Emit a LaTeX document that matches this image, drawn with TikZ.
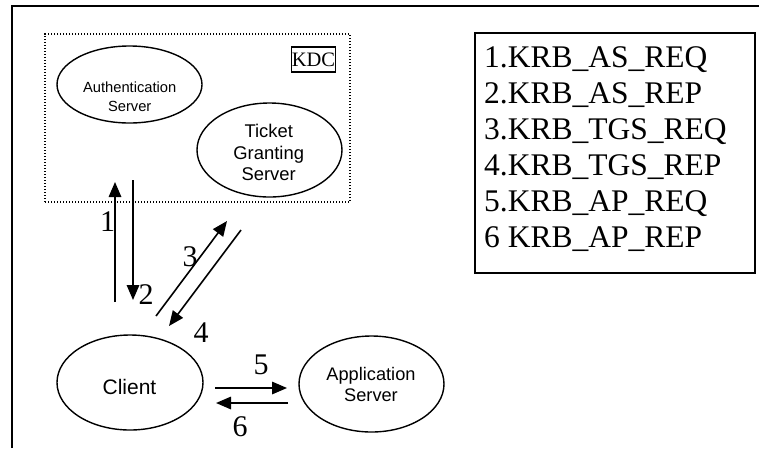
\documentclass[tikz,border=0pt]{standalone}
\usepackage{fontspec}
\setmainfont{Liberation Serif}
\newfontfamily\arialish{Liberation Sans}
\usetikzlibrary{arrows.meta,shapes.geometric}

\begin{document}
\begin{tikzpicture}[x=1pt,y=-1pt,
  server/.style={draw, ellipse, line width=1.4pt, inner sep=0pt},
  sanstext/.style={align=center, inner sep=0pt},
  flow/.style={line width=1.6pt, -{Triangle[length=15pt,width=12.5pt]}},
  num/.style={font=\fontsize{30}{30}\selectfont, inner sep=0pt},
  legendline/.style={anchor=base west, inner sep=0pt, font=\fontsize{31.5}{36}\selectfont}
]
\useasboundingbox (0,0) rectangle (759,448);

% outer frame, continuing past the right and bottom edges
\draw[line width=2pt] (12,448) -- (12,6) -- (759,6);

% KDC region
\node[draw, line width=1.3pt, dash pattern=on 1.3pt off 1.7pt,
      minimum width=305, minimum height=168, inner sep=0pt] (kdc) at (197.5,118) {};
\node[draw, line width=1.2pt, minimum width=43, minimum height=25, inner sep=0pt,
      font=\fontsize{20.5}{20.5}\selectfont] (kdclabel) at (313.5,59.5) {KDC};

% servers and client
\node[server, minimum width=145, minimum height=77] (as) at (129.5,84.5) {};
\node[sanstext, font=\arialish\fontsize{14.7}{18.7}\selectfont] (astxt) at (129.7,97) {Authentication\\Server};

\node[server, minimum width=145, minimum height=94] (tgs) at (269.5,150) {};
\node[sanstext, font=\arialish\fontsize{18.4}{21.5}\selectfont] (tgstxt) at (268.7,152.5) {Ticket\\Granting\\Server};

\node[server, minimum width=146, minimum height=95] (client) at (130,382.5) {};
\node[sanstext, font=\arialish\fontsize{21}{21}\selectfont] (clienttxt) at (129.5,386.7) {Client};

\node[server, minimum width=145, minimum height=96] (app) at (371.5,384) {};
\node[sanstext, font=\arialish\fontsize{18.2}{21.7}\selectfont] (apptxt) at (371,384.5) {Application\\Server};

% message arrow end points
\coordinate (a1s) at (115,302); \coordinate (a1e) at (115,182);
\coordinate (a2s) at (133,180); \coordinate (a2e) at (133,300);
\coordinate (a3s) at (156,316); \coordinate (a3e) at (227,221);
\coordinate (a4s) at (241,230); \coordinate (a4e) at (169,326);
\coordinate (a5s) at (215,388); \coordinate (a5e) at (287,388);
\coordinate (a6s) at (288,403); \coordinate (a6e) at (216,403);

\draw[flow] (a1s) -- (a1e);
\draw[flow] (a2s) -- (a2e);
\draw[flow] (a3s) -- (a3e);
\draw[flow] (a4s) -- (a4e);
\draw[flow] (a5s) -- (a5e);
\draw[flow] (a6s) -- (a6e);

% message numbers
\node[num] (n1) at (107.5,222) {1};
\node[num] (n2) at (146,295) {2};
\node[num] (n3) at (190,257) {3};
\node[num] (n4) at (201,333) {4};
\node[num] (n5) at (261,365) {5};
\node[num] (n6) at (240,427) {6};

% legend
\node[draw, line width=1.2pt, minimum width=280, minimum height=240, inner sep=0pt] (legend) at (615,153) {};
\node[legendline] (leg1) at (484,67)  {1.KRB\_AS\_REQ};
\node[legendline] (leg2) at (484,103) {2.KRB\_AS\_REP};
\node[legendline] (leg3) at (484,139) {3.KRB\_TGS\_REQ};
\node[legendline] (leg4) at (484,175) {4.KRB\_TGS\_REP};
\node[legendline] (leg5) at (484,211) {5.KRB\_AP\_REQ};
\node[legendline] (leg6) at (484,247) {6 KRB\_AP\_REP};
\end{tikzpicture}
\end{document}
